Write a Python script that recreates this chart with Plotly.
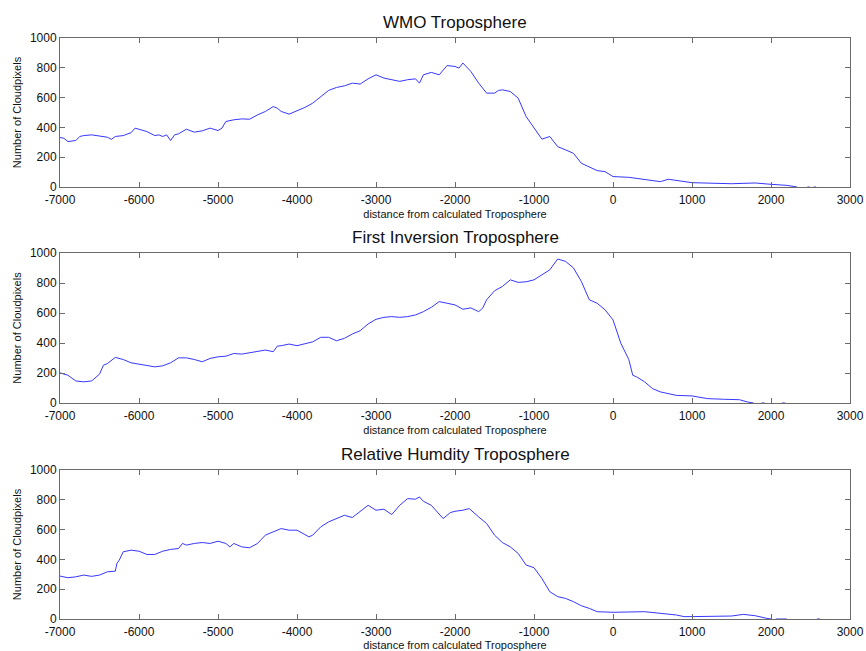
import plotly.graph_objects as go

# ---------------- data ----------------
wmo_x = [-7000, -6950, -6900, -6800, -6750, -6700, -6600, -6500, -6400, -6350, -6300, -6200, -6100, -6050,
         -6000, -5900, -5800, -5750, -5700, -5650, -5600, -5550, -5500, -5400, -5300, -5200, -5100, -5000,
         -4950, -4900, -4800, -4700, -4600, -4500, -4400, -4300, -4250, -4200, -4100, -4000, -3900, -3800,
         -3700, -3650, -3600, -3500, -3400, -3300, -3200, -3100, -3000, -2900, -2800, -2700, -2600, -2500,
         -2450, -2400, -2300, -2200, -2100, -2000, -1950, -1900, -1800, -1700, -1600, -1500, -1450, -1400,
         -1300, -1200, -1100, -1000, -900, -800, -700, -600, -500, -400, -300, -200, -100, 0, 200, 400,
         600, 700, 800, 1000, 1500, 1800, 2000, 2200, 2330, 2340, 2460, 2490, 2500, 2540, 2570]
wmo_y = [332, 327, 305, 312, 339, 345, 350, 343, 334, 320, 339, 345, 365, 395,
         388, 372, 345, 350, 339, 350, 312, 350, 357, 388, 368, 377, 395, 379,
         395, 440, 451, 457, 455, 484, 507, 540, 529, 507, 489, 511, 534, 563,
         608, 630, 648, 668, 679, 697, 691, 726, 753, 731, 720, 709, 720, 726,
         697, 753, 769, 753, 815, 809, 798, 832, 776, 697, 630, 630, 648, 652,
         641, 596, 473, 395, 321, 339, 271, 249, 226, 159, 137, 110, 103, 70, 65, 52,
         36, 52, 43, 29, 22, 27, 18, 11, 0, None, 0, 0, None, 0, 0]

inv_x = [-7000, -6900, -6800, -6700, -6600, -6500, -6450, -6400, -6300, -6200, -6100, -6000, -5900, -5800,
         -5700, -5600, -5500, -5400, -5300, -5200, -5100, -5000, -4900, -4800, -4700, -4600, -4500, -4400,
         -4300, -4250, -4200, -4100, -4000, -3900, -3800, -3700, -3600, -3500, -3400, -3300, -3200, -3100,
         -3000, -2900, -2800, -2700, -2600, -2500, -2400, -2300, -2200, -2100, -2000, -1900, -1800, -1700,
         -1650, -1600, -1500, -1400, -1300, -1200, -1100, -1000, -900, -800, -700, -600, -500, -400, -300,
         -200, -100, 0, 100, 200, 250, 300, 400, 500, 600, 700, 800, 1000, 1200, 1400, 1600, 1700, 1780,
         1790, 1880, 1920, 1940, 2000, 2010, 2100, 2140, 2180, 2200]
inv_y = [201, 185, 147, 141, 147, 192, 252, 263, 304, 290, 268, 259, 248, 241,
         248, 268, 301, 301, 290, 275, 297, 308, 312, 330, 326, 335, 346, 353,
         342, 379, 382, 393, 382, 393, 408, 438, 438, 415, 431, 460, 482, 527,
         558, 571, 576, 571, 576, 587, 609, 638, 676, 665, 654, 625, 634, 609,
         632, 688, 748, 777, 821, 804, 808, 821, 855, 888, 960, 944, 900, 810, 688,
         665, 621, 554, 397, 290, 185, 174, 141, 96, 74, 63, 51, 47, 29, 25, 22, 7, 0,
         None, 0, 0, None, 0, 0, None, 0, 0, None, 0]

rh_x = [-7000, -6900, -6800, -6700, -6600, -6500, -6400, -6300, -6280, -6250, -6200, -6100, -6000, -5900,
        -5800, -5700, -5600, -5500, -5450, -5400, -5300, -5200, -5100, -5000, -4900, -4850, -4800, -4700,
        -4600, -4500, -4400, -4300, -4200, -4100, -4000, -3900, -3850, -3800, -3700, -3600, -3500, -3400,
        -3300, -3200, -3100, -3000, -2900, -2800, -2700, -2600, -2500, -2450, -2400, -2300, -2200, -2150,
        -2060, -2000, -1900, -1820, -1700, -1600, -1500, -1400, -1300, -1200, -1100, -1000, -900, -800,
        -700, -600, -500, -400, -300, -200, 0, 400, 800, 900, 1000, 1500, 1650, 1800, 1950, 2000,
        2010, 2060, 2200, 2210, 2580, 2620, 2640, 2700]
rh_y = [288, 277, 283, 295, 286, 295, 317, 321, 373, 395, 451, 462, 455, 433,
        433, 455, 467, 473, 507, 496, 507, 513, 507, 522, 507, 484, 507, 484,
        478, 507, 563, 585, 607, 596, 596, 567, 551, 563, 618, 652, 674, 696,
        681, 719, 763, 730, 737, 701, 763, 808, 804, 819, 790, 763, 708, 674,
        714, 723, 730, 741, 685, 641, 563, 513, 484, 440, 362, 344, 272, 183,
        150, 138, 116, 89, 71, 49, 45, 49, 27, 16, 16, 20, 31, 22, 4, 0,
        None, 0, 0, None, 0, 0, None, 0]

titles = ["WMO Troposphere", "First Inversion Troposphere", "Relative Humdity Troposphere"]
x_ticks = [-7000, -6000, -5000, -4000, -3000, -2000, -1000, 0, 1000, 2000, 3000]
x_tick_text = ["-7000", "-6000", "-5000", "-4000", "-3000", "-2000", "-1000", "0", "1000", "2000", "3000"]
y_ticks = [0, 200, 400, 600, 800, 1000]
x_label = "distance from calculated Troposphere"
y_label = "Number of Cloudpixels"

# ---------------- figure ----------------
W, H = 866, 651
ML, MR, MT, MB = 60, 16, 38, 32
PH = H - MT - MB
panels_px = [(38, 187), (253, 403), (470, 619)]  # top, bottom in pixels


def dom(top, bot):
    return [(H - MB - bot) / PH, (H - MB - top) / PH]


fig = go.Figure()
series = [(wmo_x, wmo_y), (inv_x, inv_y), (rh_x, rh_y)]
axis_color = "#6a6a6a"
font = "Arial, Liberation Sans, sans-serif"

for i, ((xs, ys), (top, bot)) in enumerate(zip(series, panels_px)):
    n = "" if i == 0 else str(i + 1)
    fig.add_trace(go.Scatter(x=xs, y=ys, mode="lines",
                             line=dict(color="rgb(55,55,255)", width=1),
                             xaxis="x" + n, yaxis="y" + n, showlegend=False,
                             connectgaps=False))
    common = dict(showgrid=False, zeroline=False, showline=True, mirror="ticks",
                  linecolor=axis_color, linewidth=1, ticks="inside", ticklen=5,
                  tickcolor=axis_color, automargin=False,
                  tickfont=dict(family=font, size=12, color="#111"))
    fig.layout["xaxis" + n] = dict(common, domain=[0, 1], range=[-7000, 3000],
                                   tickvals=x_ticks, ticktext=x_tick_text,
                                   ticklabelstandoff=2,
                                   anchor="y" + n,
                                   title=dict(text=x_label, standoff=3,
                                              font=dict(family=font, size=11, color="#111")))
    fig.layout["yaxis" + n] = dict(common, domain=dom(top, bot), range=[0, 1000], tickvals=y_ticks,
                                   anchor="x" + n,
                                   title=dict(text=y_label, standoff=6,
                                              font=dict(family=font, size=11, color="#111")))
    fig.add_annotation(text=titles[i], xref="paper", yref="paper", x=0.5,
                       y=dom(top, bot)[1], yanchor="bottom", yshift=4, showarrow=False,
                       font=dict(family=font, size=17, color="#111"))

fig.update_layout(width=W, height=H, margin=dict(l=ML, r=MR, t=MT, b=MB),
                  plot_bgcolor="white", paper_bgcolor="white")

fig.write_html("out.html")
